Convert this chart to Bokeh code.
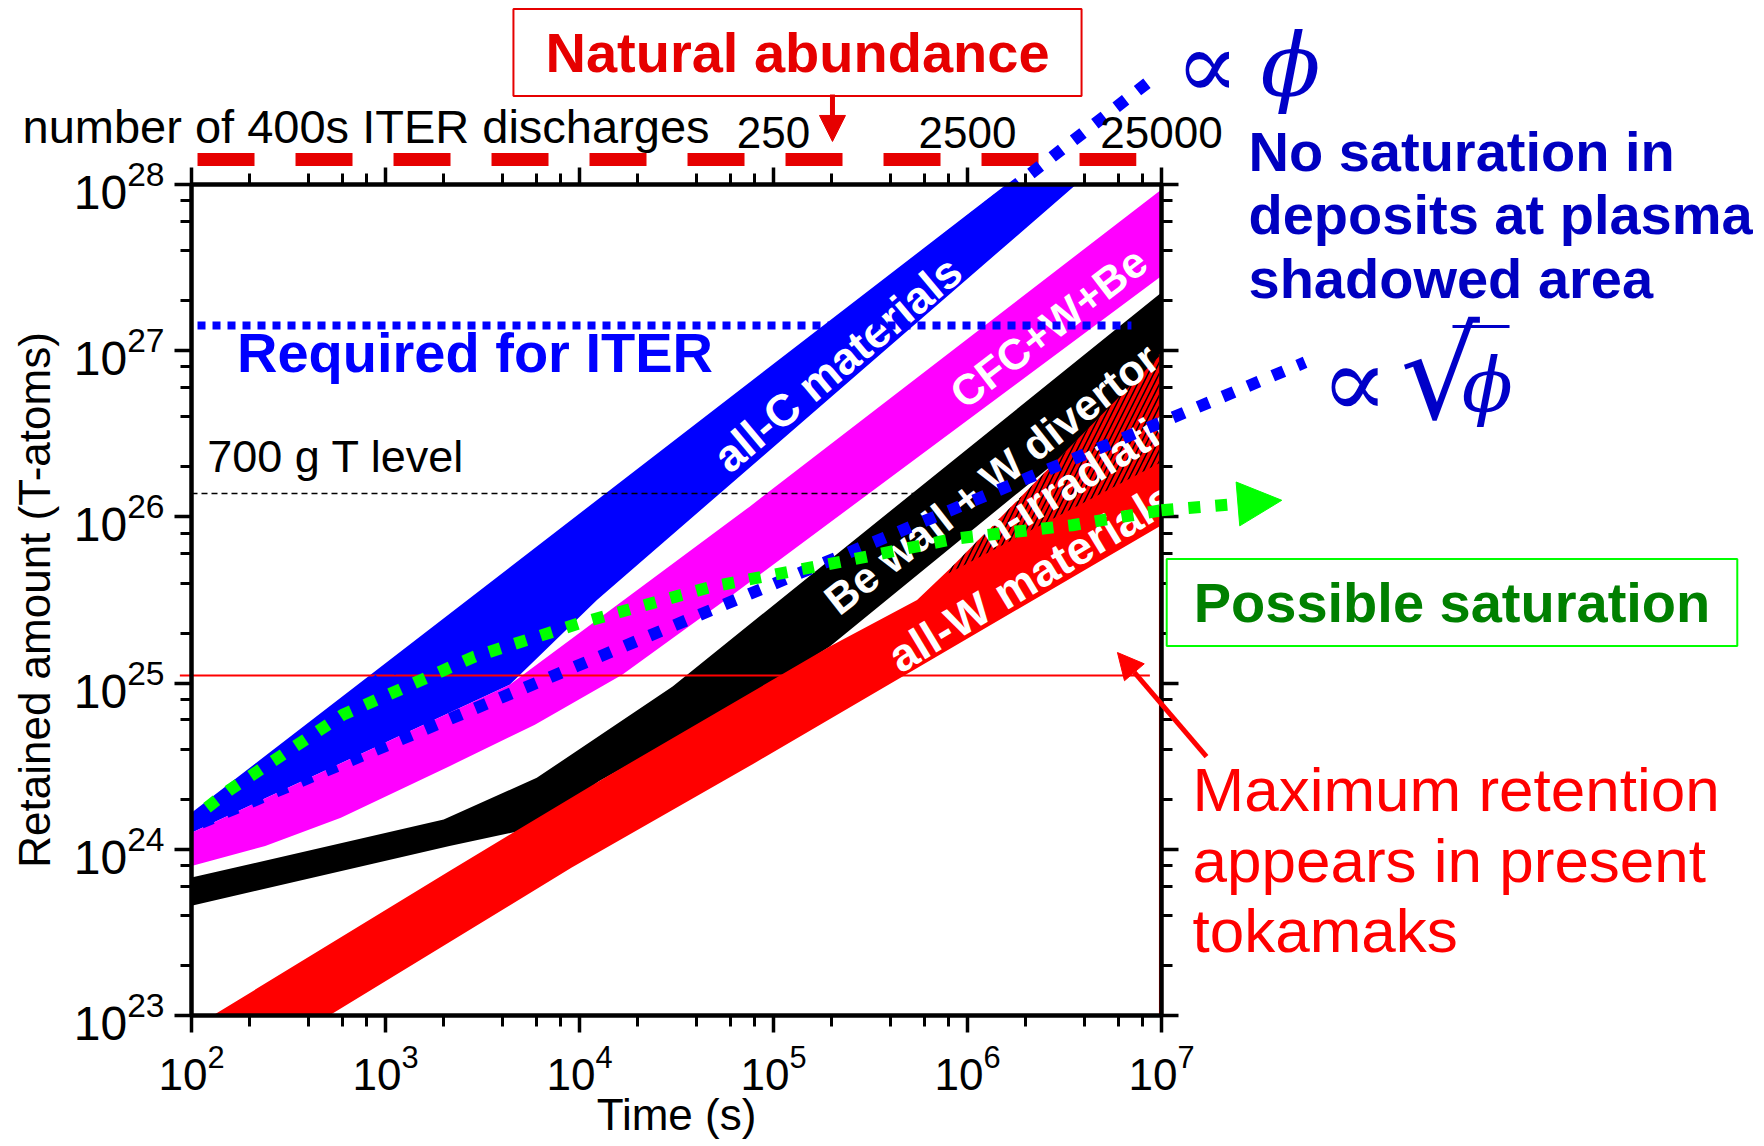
import numpy as np
from bokeh.plotting import figure
from bokeh.models import LogAxis, Label, Arrow, NormalHead, ColumnDataSource, CustomJSTickFormatter
from bokeh.core.properties import value
from bokeh.embed import file_html
from bokeh.resources import INLINE

# ---------------- data: log10(time / s) and log10(retained T atoms) ----------------
allC_up_t = [2.00, 6.20]
allC_up_n = [24.22, 28.00]
allC_lo_t = [2.00, 3.64, 4.09, 6.56]
allC_lo_n = [24.10, 24.99, 25.50, 28.00]

cfc_up_t = [2.00, 3.64, 4.875, 7.00]
cfc_up_n = [24.10, 24.99, 26.06, 27.97]
cfc_lo_t = [2.00, 2.38, 2.77, 3.33, 3.77, 4.22, 4.80, 7.00]
cfc_lo_n = [23.90, 24.02, 24.19, 24.50, 24.75, 25.05, 25.54, 27.45]

bew_up_t = [2.00, 3.30, 3.78, 4.48, 7.00]
bew_up_n = [23.83, 24.18, 24.43, 24.98, 27.35]
bew_lo_t = [2.00, 3.33, 3.77, 4.10, 4.89, 5.29, 5.94, 7.00]
bew_lo_n = [23.66, 24.02, 24.13, 24.41, 24.92, 25.22, 25.84, 26.85]

allW_up_t = [2.11, 3.33, 4.10, 5.29, 5.74, 5.92, 7.00]
allW_up_n = [23.00, 23.87, 24.41, 25.22, 25.50, 25.70, 26.98]
allW_lo_t = [2.71, 3.96, 4.89, 7.00]
allW_lo_n = [23.00, 23.89, 24.51, 25.95]

nirr_up_t = [5.90, 5.92, 7.00]
nirr_up_n = [25.66, 25.70, 26.98]
nirr_lo_t = [5.90, 7.00]
nirr_lo_n = [25.66, 26.33]

prop_phi_t = [2.04, 6.97]          # "∝ φ" trend (no saturation)
prop_phi_n = [24.18, 28.65]
sqrt_phi_t = [2.05, 7.74]          # "∝ √φ" trend
sqrt_phi_n = [24.16, 26.93]
sat_t = [2.08, 2.20, 2.78, 3.46, 4.00, 4.68, 5.39, 5.94, 6.54, 7.00, 7.62]   # possible saturation
sat_n = [24.25, 24.36, 24.81, 25.16, 25.36, 25.58, 25.74, 25.87, 25.95, 26.04, 26.10]

iter_req_n = 27.152
iter_req_t = [2.031, 6.845]
level700_n = 26.141
level700_t = [2.00, 5.73]
maxret_n = 25.046
maxret_t = [1.94, 6.94]
abundance_t = [2.031, 6.87]        # natural abundance marker (dashed, above the frame)
abundance_n = 28.15

band_text = ["all-C materials", "CFC+W+Be", "Be wall + W divertor", "n-irradiation", "all-W materials"]
band_text_t = [5.33, 6.418, 6.124, 6.639, 6.33]
band_text_n = [26.92, 27.14, 26.23, 26.29, 25.64]

top_tick_labels = {1e2: "", 1e3: "", 1e4: "", 1e5: "250", 1e6: "2500", 1e7: "25000"}


def E(v):
    return [10.0 ** x for x in v]


def band(ut, un, lt, ln):
    return E(ut + lt[::-1]), E(un + ln[::-1])


FONT = "Liberation Sans"
PX_PER_DECADE_Y = 166.2

# the frame fills the whole canvas; the framed axes sit at fixed data locations
p = figure(width=1760, height=1144, x_axis_type="log", y_axis_type="log",
           x_axis_location=None, y_axis_location=None,
           x_range=(10 ** 1.0154639, 10 ** 10.0876288), y_range=(10 ** 22.2238267, 10 ** 29.1070999),
           output_backend="svg", toolbar_location=None, min_border=0)
p.grid.visible = False
p.outline_line_color = None
p.background_fill_color = "white"
p.border_fill_color = "white"


def style(ax):
    ax.axis_line_width = 4.5
    ax.axis_line_color = "black"
    ax.major_tick_line_width = 3.5
    ax.minor_tick_line_width = 3
    ax.major_tick_out = 17
    ax.major_tick_in = 0
    ax.minor_tick_out = 11
    ax.minor_tick_in = 0
    ax.major_label_text_font = FONT
    ax.major_label_text_color = "black"
    ax.axis_label_text_font = FONT
    ax.axis_label_text_font_style = "normal"
    ax.axis_label_text_color = "black"


bottom = LogAxis(fixed_location=1e23, bounds=(1e2, 1e7), axis_label="Time (s)")
style(bottom)
bottom.axis_label_text_font_size = "44px"
bottom.major_label_text_font_size = "44px"
bottom.major_label_standoff = 11
bottom.axis_label_standoff = -3
p.add_layout(bottom, "below")

left = LogAxis(fixed_location=1e2, bounds=(1e23, 1e28), axis_label="Retained amount (T-atoms)")
style(left)
left.axis_label_text_font_size = "44px"
left.major_label_text_font_size = "48px"
left.major_label_standoff = 10
left.axis_label_standoff = 12
p.add_layout(left, "left")

top = LogAxis(fixed_location=1e28, bounds=(1e2, 1e7), major_label_overrides=top_tick_labels)
style(top)
top.major_label_text_font_size = "44px"
top.major_label_standoff = 20
p.add_layout(top, "above")

right = LogAxis(fixed_location=1e7, bounds=(1e23, 1e28), formatter=CustomJSTickFormatter(code="return ''"))
style(right)
p.add_layout(right, "right")

# ---------------- bands ----------------
for (ut, un, lt, ln, col) in [
    (allC_up_t, allC_up_n, allC_lo_t, allC_lo_n, "#0000FF"),
    (cfc_up_t, cfc_up_n, cfc_lo_t, cfc_lo_n, "#FF00FF"),
    (bew_up_t, bew_up_n, bew_lo_t, bew_lo_n, "#000000"),
    (allW_up_t, allW_up_n, allW_lo_t, allW_lo_n, "#FF0000"),
]:
    xs, ys = band(ut, un, lt, ln)
    p.patch(xs, ys, fill_color=col, line_color=None)

hx, hy = band(nirr_up_t, nirr_up_n, nirr_lo_t, nirr_lo_n)
p.patch(hx, hy, fill_alpha=0, line_color=None, hatch_pattern="/", hatch_color="black",
        hatch_scale=11, hatch_weight=1.5)

# red edge of the all-W band along the right axis
p.line(E([6.992, 6.992]), E([23.0, 26.98]), line_color="#FF0000", line_width=2)

# band labels
src = ColumnDataSource(dict(x=E(band_text_t), y=E(band_text_n), text=band_text,
                            angle=list(np.radians([40, 37.5, 38, 32, 31])),
                            size=["45px", "43px", "43px", "44px", "46px"]))
p.text(x="x", y="y", text="text", angle="angle", text_font_size="size", source=src,
       text_font=value(FONT), text_font_style="bold", text_color="white",
       text_align="center", text_baseline="middle")

# horizontal levels
p.line(E(level700_t), E([level700_n] * 2), line_color="black", line_width=1.5, line_dash="6 4")
p.line(E(maxret_t), E([maxret_n] * 2), line_color="#FF0000", line_width=2)
p.line(E(iter_req_t), E([iter_req_n] * 2), line_color="#0000FF", line_width=8, line_dash="8 7")
p.line(E(abundance_t), E([abundance_n] * 2), line_color="#E60000", line_width=13, line_dash="57 41")

# trend lines
p.line(E(prop_phi_t), E(prop_phi_n), line_color="#0000FF", line_width=12, line_dash="12 15")
p.line(E(sqrt_phi_t), E(sqrt_phi_n), line_color="#0000FF", line_width=12, line_dash="12 15")
p.line(E(sat_t[:-1]), E(sat_n[:-1]), line_color="#00FF00", line_width=12, line_dash="12 15")


def label(xl, yl, text, size, color="black", style="normal", font=FONT, align="left",
          baseline="alphabetic", **kw):
    if baseline == "alphabetic":
        # place by the middle of the text box, which sits about 0.35 em above the baseline
        yl = yl + 0.3465 * size / PX_PER_DECADE_Y
        baseline = "middle"
    p.add_layout(Label(x=10**xl, y=10**yl, text=text, text_font=font, text_font_size=f"{size}px",
                       text_font_style=style, text_color=color, text_align=align,
                       text_baseline=baseline, **kw))


label(1.1289, 28.25, "number of 400s ITER discharges", 47)
label(5.1237, 28.794, "Natural abundance", 56, color="#E60000", style="bold", align="center",
      baseline="middle", border_line_color="#E60000", border_line_width=2,
      background_fill_color="white", padding=(32, 12))

label(3.4613, 26.875, "Required for ITER", 56, color="#0000FF", style="bold", align="center")
label(2.0809, 26.269, "700 g T level", 45)

label(7.236, 28.715, "∝", 94, color="#0000C8", font="DejaVu Serif", align="center", baseline="middle")
label(7.665, 28.715, "ϕ", 88, color="#0000C8", font="DejaVu Serif", style="italic",
      align="center", baseline="middle")

label(7.4485, 28.0842, "No saturation in", 56, color="#0000C0", style="bold")
label(7.4485, 27.7022, "deposits at plasma", 56, color="#0000C0", style="bold")
label(7.4485, 27.3201, "shadowed area", 56, color="#0000C0", style="bold")

label(7.9948, 26.8087, "∝", 100, color="#0000C8", font="DejaVu Serif", align="center", baseline="middle")
label(8.436, 26.8568, "√", 125, color="#0000C8", font="DejaVu Serif", align="center", baseline="middle")
label(8.680, 26.7966, "ϕ", 75, color="#0000C8", font="DejaVu Serif", style="italic",
      align="center", baseline="middle")
p.line(E([8.50, 8.794]), E([27.146, 27.146]), line_color="#0000C8", line_width=3)

label(8.4974, 25.485, "Possible saturation", 56, color="#008000", style="bold", align="center",
      baseline="middle", border_line_color="#00FF00", border_line_width=2,
      background_fill_color="white", padding=(27, 12))

label(7.1598, 24.2334, "Maximum retention", 62, color="#FF0000")
label(7.1598, 23.8063, "appears in present", 62, color="#FF0000")
label(7.1598, 23.3851, "tokamaks", 62, color="#FF0000")

# arrows
p.add_layout(Arrow(end=NormalHead(size=44, fill_color="#00FF00", line_color="#00FF00"),
                   x_start=10**sat_t[-2], y_start=10**sat_n[-2], x_end=10**sat_t[-1], y_end=10**sat_n[-1],
                   line_color="#00FF00", line_width=12, line_dash="12 15"))
p.add_layout(Arrow(end=NormalHead(size=26, fill_color="#E60000", line_color="#E60000"),
                   x_start=10**5.304, y_start=10**28.541, x_end=10**5.304, y_end=10**28.259,
                   line_color="#E60000", line_width=5))
p.add_layout(Arrow(end=NormalHead(size=26, fill_color="#FF0000", line_color="#FF0000"),
                   x_start=10**7.232, y_start=10**24.558, x_end=10**6.773, y_end=10**25.184,
                   line_color="#FF0000", line_width=5))

open("out.html", "w").write(file_html(p, INLINE))
